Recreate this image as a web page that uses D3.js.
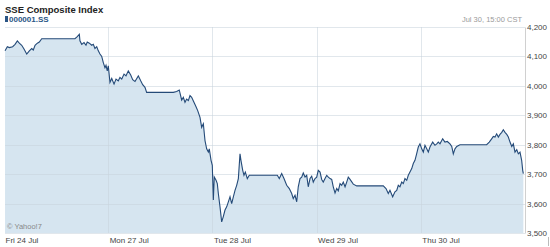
<!DOCTYPE html>
<html>
	<head>
		<title>SSE Composite Index</title>
		<script type="text/javascript" src="https://d3js.org/d3.v7.min.js"></script>
		<style type="text/css">
			body, html {
				margin: 0;
				padding: 0;
				background: #fff;
			}
			body {
				font-family: "Liberation Sans", Arial, sans-serif;
			}
			.grid line {
				stroke: #c9d3dc;
				stroke-opacity: 0.55;
				shape-rendering: crispEdges;
			}
			.axis text {
				fill: #444;
				font-size: 8px;
			}
			#price {
				fill: none;
				stroke: #244a78;
				stroke-width: 1.1px;
			}
			#area {
				fill: #d6e5f0;
			}
		</style>
	</head>
	<body>
		<div id="chart"></div>
		<script type="text/javascript">
			// day labels, one per trading day
			var days = ["Fri 24 Jul", "Mon 27 Jul", "Tue 28 Jul", "Wed 29 Jul", "Thu 30 Jul"];
			var yTicks = [3500, 3600, 3700, 3800, 3900, 4000, 4100, 4200];

			// position in trading days (0 = Fri open) and index value
			var dayPos = [
				0.010, 0.032, 0.051, 0.083, 0.106, 0.128, 0.147, 0.170, 0.192, 0.218,
				0.243, 0.266, 0.281, 0.298, 0.320, 0.339, 0.362, 0.681, 0.703, 0.723,
				0.729, 0.746, 0.768, 0.787, 0.799, 0.819, 0.842, 0.857, 0.873, 0.890,
				0.905, 0.921, 0.938, 0.953, 0.969, 0.979, 0.991, 1.001, 1.017, 1.034,
				1.056, 1.075, 1.097, 1.113, 1.130, 1.152, 1.171, 1.193, 1.216, 1.235,
				1.257, 1.289, 1.312, 1.331, 1.353, 1.369, 1.625, 1.657, 1.682, 1.705,
				1.721, 1.737, 1.753, 1.769, 1.785, 1.801, 1.823, 1.843, 1.859, 1.881,
				1.897, 1.913, 1.929, 1.945, 1.961, 1.970, 1.987, 1.999, 2.009, 2.018,
				2.035, 2.047, 2.057, 2.073, 2.089, 2.104, 2.121, 2.137, 2.153, 2.169,
				2.185, 2.201, 2.217, 2.233, 2.249, 2.265, 2.274, 2.291, 2.303, 2.316,
				2.335, 2.354, 2.623, 2.642, 2.665, 2.687, 2.713, 2.738, 2.761, 2.776,
				2.793, 2.809, 2.824, 2.841, 2.857, 2.872, 2.889, 2.905, 2.920, 2.937,
				2.953, 2.968, 2.985, 3.001, 3.016, 3.033, 3.049, 3.064, 3.081, 3.097,
				3.113, 3.129, 3.145, 3.160, 3.177, 3.193, 3.208, 3.225, 3.241, 3.256,
				3.273, 3.289, 3.304, 3.321, 3.352, 3.385, 3.640, 3.666, 3.688, 3.704,
				3.730, 3.752, 3.769, 3.784, 3.800, 3.817, 3.832, 3.848, 3.865, 3.880,
				3.896, 3.913, 3.928, 3.944, 3.960, 3.976, 3.992, 4.009, 4.024, 4.040,
				4.057, 4.072, 4.088, 4.114, 4.136, 4.153, 4.168, 4.184, 4.210, 4.232,
				4.254, 4.280, 4.297, 4.312, 4.328, 4.345, 4.376, 4.632, 4.657, 4.680,
				4.696, 4.712, 4.728, 4.744, 4.760, 4.777, 4.792, 4.808, 4.825, 4.840,
				4.856, 4.873, 4.888, 4.904, 4.921, 4.936, 4.952, 4.968, 4.978, 4.984
			];
			var price = [
				4119, 4133, 4130, 4133, 4141, 4153, 4145, 4138, 4125, 4108,
				4119, 4127, 4122, 4138, 4145, 4149, 4160, 4160, 4167, 4175,
				4153, 4141, 4147, 4138, 4149, 4145, 4138, 4141, 4127, 4133,
				4119, 4108, 4100, 4079, 4062, 4070, 4051, 4068, 4012, 4025,
				4006, 4023, 4017, 4029, 4023, 4040, 4034, 4051, 4037, 4021,
				4015, 4034, 4017, 4004, 3995, 3978, 3978, 3981, 3986, 3952,
				3961, 3944, 3955, 3950, 3967, 3961, 3944, 3929, 3916, 3893,
				3859, 3871, 3814, 3786, 3775, 3786, 3747, 3730, 3612, 3690,
				3679, 3668, 3634, 3589, 3538, 3555, 3578, 3589, 3606, 3623,
				3600, 3623, 3645, 3662, 3685, 3769, 3747, 3713, 3696, 3707,
				3685, 3696, 3696, 3685, 3702, 3685, 3662, 3651, 3634, 3617,
				3628, 3606, 3657, 3685, 3690, 3704, 3690, 3696, 3657, 3685,
				3693, 3673, 3685, 3690, 3713, 3707, 3682, 3673, 3685, 3696,
				3690, 3685, 3682, 3657, 3636, 3651, 3643, 3668, 3662, 3673,
				3657, 3673, 3690, 3682, 3666, 3660, 3660, 3651, 3634, 3645,
				3623, 3640, 3645, 3662, 3657, 3673, 3668, 3685, 3679, 3696,
				3707, 3719, 3736, 3747, 3769, 3792, 3803, 3786, 3775, 3798,
				3786, 3775, 3792, 3809, 3798, 3803, 3809, 3803, 3820, 3809,
				3811, 3803, 3794, 3769, 3786, 3794, 3800, 3800, 3809, 3820,
				3828, 3826, 3837, 3826, 3835, 3842, 3851, 3842, 3835, 3826,
				3809, 3794, 3803, 3775, 3783, 3769, 3775, 3747, 3713, 3702
			];

			var width = 550, height = 247;
			var plotLeft = 4, plotRight = 525, plotTop = 27, plotBottom = 233;

			var svg = d3.select("#chart").append("svg")
				.attr("width", width)
				.attr("height", height);

			var x = d3.scaleLinear().domain([0, 5]).range([plotLeft, plotRight]);
			var y = d3.scaleLinear().domain([3500, 4200]).range([plotBottom, plotTop]);

			var data = dayPos.map(function(d, i) { return {t: d, v: price[i]}; });

			// area under the line
			var area = d3.area()
				.x(function(d) { return x(d.t); })
				.y0(y(3500))
				.y1(function(d) { return y(d.v); });

			svg.append("path")
				.datum(data)
				.attr("id", "area")
				.attr("d", area);

			// gridlines
			var grid = svg.append("g").attr("class", "grid");
			grid.selectAll(".h")
				.data(yTicks)
				.enter().append("line")
				.attr("x1", plotLeft + 1)
				.attr("x2", plotRight)
				.attr("y1", function(d) { return Math.round(y(d)) + 0.5; })
				.attr("y2", function(d) { return Math.round(y(d)) + 0.5; });
			grid.selectAll(".v")
				.data(d3.range(1, days.length))
				.enter().append("line")
				.attr("x1", function(d) { return Math.round(x(d)) + 0.5; })
				.attr("x2", function(d) { return Math.round(x(d)) + 0.5; })
				.attr("y1", plotTop)
				.attr("y2", plotBottom);

			var line = d3.line()
				.x(function(d) { return x(d.t); })
				.y(function(d) { return y(d.v); });

			svg.append("path")
				.datum(data)
				.attr("id", "price")
				.attr("d", line);

			// right hand axis
			var yAxis = d3.axisRight(y)
				.tickValues(yTicks)
				.tickSize(0)
				.tickPadding(2)
				.tickFormat(d3.format(","));

			svg.append("g")
				.attr("class", "axis")
				.attr("transform", "translate(" + plotRight + ",0)")
				.call(yAxis)
				.call(function(g) { g.select(".domain").attr("stroke", "#d0d0d0"); });

			// day labels below the plot
			var xAxis = d3.axisBottom(x)
				.tickValues(d3.range(0, days.length))
				.tickSize(0)
				.tickPadding(4)
				.tickFormat(function(d) { return days[d]; });

			svg.append("g")
				.attr("class", "axis")
				.attr("transform", "translate(0," + plotBottom + ")")
				.call(xAxis)
				.call(function(g) {
					g.select(".domain").remove();
					g.selectAll("text").attr("text-anchor", "start").attr("dx", 1).attr("fill", "#333");
				});

			svg.append("line")
				.attr("x1", 548.5).attr("x2", 548.5)
				.attr("y1", 237).attr("y2", 246)
				.attr("stroke", "#bbb");

			// header
			svg.append("text")
				.attr("x", 5).attr("y", 13)
				.attr("font-size", "9.5px")
				.attr("font-weight", "bold")
				.attr("fill", "#222")
				.text("SSE Composite Index");

			svg.append("rect")
				.attr("x", 5).attr("y", 16)
				.attr("width", 3).attr("height", 6)
				.attr("fill", "#2a5585");

			svg.append("text")
				.attr("x", 9).attr("y", 22)
				.attr("font-size", "8px")
				.attr("font-weight", "bold")
				.attr("fill", "#2a5585")
				.text("000001.SS");

			svg.append("text")
				.attr("x", 522).attr("y", 22)
				.attr("text-anchor", "end")
				.attr("font-size", "7.5px")
				.attr("fill", "#9a9a9a")
				.text("Jul 30, 15:00 CST");

			svg.append("text")
				.attr("x", 7).attr("y", 229)
				.attr("font-size", "7.5px")
				.attr("fill", "#888")
				.text("\u00a9 Yahoo!7");
		</script>
	</body>
</html>
